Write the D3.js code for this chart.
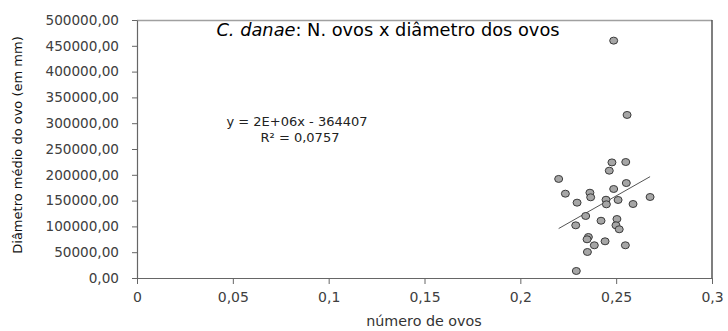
<!DOCTYPE html>
<html><head><meta charset="utf-8">
<script src="https://cdn.jsdelivr.net/npm/d3@7/dist/d3.min.js"></script>
<style>body{margin:0;background:#fff;} svg{display:block;}</style>
</head><body><svg id="c" width="728" height="331"></svg>
<script>
const numOvos = [0.2487,0.2557,0.2478,0.2550,0.2464,0.2200,0.2553,0.2487,0.2235,0.2363,0.2367,0.2677,0.2296,0.2447,0.2510,0.2449,0.2588,0.2341,0.2421,0.2504,0.2289,0.2499,0.2516,0.2355,0.2348,0.2386,0.2442,0.2548,0.2350,0.2292];
const diametro = [460000,316000,224000,224800,208000,192000,184000,172500,163400,165300,156400,157000,146000,151700,151200,142800,143400,120200,111000,114300,102100,102100,94400,79500,75000,63400,71100,63400,50400,13600];
const xTicks = [0,0.05,0.1,0.15,0.2,0.25,0.3];
const yTicks = [0,50000,100000,150000,200000,250000,300000,350000,400000,450000,500000];
const trendSlope = 2108000, trendIntercept = -367900;
const eqText = "y = 2E+06x - 364407";
const r2Text = "R² = 0,0757";

const svg = d3.select("#c");
const L=137, R=712, T=20, B=278;
const x = d3.scaleLinear().domain([0,0.3]).range([L,R]);
const y = d3.scaleLinear().domain([0,500000]).range([B,T]);
const font = "'DejaVu Sans', sans-serif";
const fmtY = d => d3.format(".2f")(d).replace(".", ",");
const fmtX = d => String(d).replace(".", ",");

// frame
svg.append("line").attr("x1",L).attr("x2",R).attr("y1",T+0.5).attr("y2",T+0.5).attr("stroke","#a0a0a0").attr("stroke-width",1.5);
svg.append("line").attr("x1",R).attr("x2",R).attr("y1",T).attr("y2",B).attr("stroke","#555").attr("stroke-width",1.5);

const ya = svg.append("g").attr("transform",`translate(${L},0)`)
  .call(d3.axisLeft(y).tickValues(yTicks).tickFormat(fmtY).tickSize(5).tickSizeOuter(0).tickPadding(13));
ya.select(".domain").attr("stroke","#666").attr("stroke-width",1.2);
ya.selectAll(".tick line").attr("stroke","#666");
ya.selectAll("text").attr("font-family",font).attr("font-size",13.6).attr("fill","#404040");

const xa = svg.append("g").attr("transform",`translate(0,${B})`)
  .call(d3.axisBottom(x).tickValues(xTicks).tickFormat(fmtX).tickSize(6).tickSizeOuter(0).tickPadding(8));
xa.select(".domain").attr("stroke","#666").attr("stroke-width",1.2);
xa.selectAll(".tick line").attr("stroke","#666");
xa.selectAll("text").attr("font-family",font).attr("font-size",14).attr("fill","#404040");

// trend line
const xmin = d3.min(numOvos), xmax = d3.max(numOvos);
svg.append("line").attr("x1",x(xmin)).attr("y1",y(trendSlope*xmin+trendIntercept))
  .attr("x2",x(xmax)).attr("y2",y(trendSlope*xmax+trendIntercept))
  .attr("stroke","#555").attr("stroke-width",1);

// points
svg.append("g").selectAll("ellipse").data(numOvos.map((v,i)=>[v,diametro[i]])).join("ellipse")
  .attr("cx",d=>x(d[0])).attr("cy",d=>y(d[1])).attr("rx",4).attr("ry",3.5)
  .attr("fill","#a6a6a6").attr("stroke","#3a3a3a").attr("stroke-width",1);

// title
const t = svg.append("text").attr("x",388).attr("y",36).attr("text-anchor","middle")
  .attr("font-family",font).attr("font-size",17.8).attr("fill","#000");
t.append("tspan").attr("font-style","italic").text("C. danae");
t.append("tspan").text(": N. ovos x diâmetro dos ovos");

// equation
svg.append("text").attr("x",297).attr("y",126).attr("text-anchor","middle").attr("font-family",font)
  .attr("font-size",13).attr("fill","#222").text(eqText);
svg.append("text").attr("x",300).attr("y",142).attr("text-anchor","middle").attr("font-family",font)
  .attr("font-size",13).attr("fill","#222").text(r2Text);

// axis titles
svg.append("text").attr("x",424).attr("y",326).attr("text-anchor","middle").attr("font-family",font)
  .attr("font-size",14.3).attr("fill","#333").text("número de ovos");
svg.append("text").attr("transform","translate(22,145) rotate(-90)").attr("text-anchor","middle")
  .attr("font-family",font).attr("font-size",13).attr("fill","#111").text("Diâmetro médio do ovo (em mm)");
</script></body></html>
